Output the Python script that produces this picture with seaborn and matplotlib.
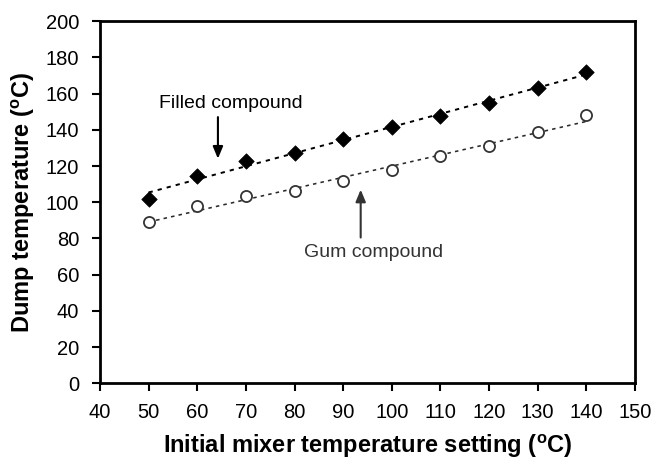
import numpy as np
import pandas as pd
import matplotlib
matplotlib.use("Agg")
import matplotlib.pyplot as plt
import seaborn as sns

# ---- data ----
mixer_temp = [50, 60, 70, 80, 90, 100, 110, 120, 130, 140]
filled_dump = [102, 114.5, 122.7, 127, 135, 141.3, 147.7, 154.7, 162.8, 171.7]
gum_dump = [89, 98, 103.3, 106, 111.6, 117.7, 125.4, 131, 138.5, 148]
x_ticks = list(range(40, 151, 10))
y_ticks = list(range(0, 201, 20))
filled_label = "Filled compound"
gum_label = "Gum compound"

sns.set_theme(style="white")
plt.rcParams['font.family'] = ['Liberation Sans', 'DejaVu Sans']
plt.rcParams['mathtext.fontset'] = 'custom'
plt.rcParams['mathtext.rm'] = 'Liberation Sans:bold'
plt.rcParams['mathtext.it'] = 'Liberation Sans:bold'
plt.rcParams['mathtext.bf'] = 'Liberation Sans:bold'

df = pd.DataFrame({"x": mixer_temp, "filled": filled_dump, "gum": gum_dump})

fig = plt.figure(figsize=(6.56, 4.65), dpi=100)
ax = fig.add_axes([0.1524, 0.1753, 0.968 - 0.1524, 0.9548 - 0.1753])

# trend lines
sns.regplot(data=df, x="x", y="filled", ax=ax, scatter=False, ci=None,
            line_kws=dict(color="black", lw=1.4, ls=(0, (2.2, 2.6)), zorder=1))
sns.regplot(data=df, x="x", y="gum", ax=ax, scatter=False, ci=None,
            line_kws=dict(color="#2a2a2a", lw=1.15, ls=(0, (2.2, 2.6)), zorder=1))

# markers
sns.scatterplot(data=df, x="x", y="filled", ax=ax, marker="D", s=62,
                color="black", edgecolor="black", linewidth=0.5, zorder=3)
sns.scatterplot(data=df, x="x", y="gum", ax=ax, marker="o", s=64,
                facecolor="white", edgecolor="#333333", linewidth=1.3, zorder=3)

ax.set_xlim(40, 150)
ax.set_ylim(0, 200)
ax.set_xticks(x_ticks)
ax.set_yticks(y_ticks)
ax.tick_params(axis="both", direction="out", length=6, width=1.5,
               labelsize=14.5, color="black", labelcolor="black",
               bottom=True, left=True)
ax.tick_params(axis="y", pad=9)
ax.tick_params(axis="x", pad=8)
for sp in ax.spines.values():
    sp.set_visible(True)
    sp.set_color("black")
    sp.set_linewidth(2)

ax.set_xlabel(r"Initial mixer temperature setting ($^{\mathrm{o}}$C)",
              fontsize=17, fontweight="bold", labelpad=8, color="black")
ax.set_ylabel(r"Dump temperature ($^{\mathrm{o}}$C)",
              fontsize=17, fontweight="bold", labelpad=6, color="black")

# annotations
ax.annotate("", xy=(64.25, 122.5), xytext=(64.25, 148.5),
            arrowprops=dict(arrowstyle="-|>,head_length=0.6,head_width=0.25",
                            color="black", lw=1.5))
ax.text(52.1, 154.7, filled_label, fontsize=14, ha="left", va="center",
        color="black")
ax.annotate("", xy=(93.6, 108.5), xytext=(93.6, 79),
            arrowprops=dict(arrowstyle="-|>,head_length=0.6,head_width=0.25",
                            color="#333333", lw=1.5))
ax.text(96.3, 72.5, gum_label, fontsize=14, ha="center", va="center",
        color="#333333")

fig.savefig("out.png", dpi=100)
